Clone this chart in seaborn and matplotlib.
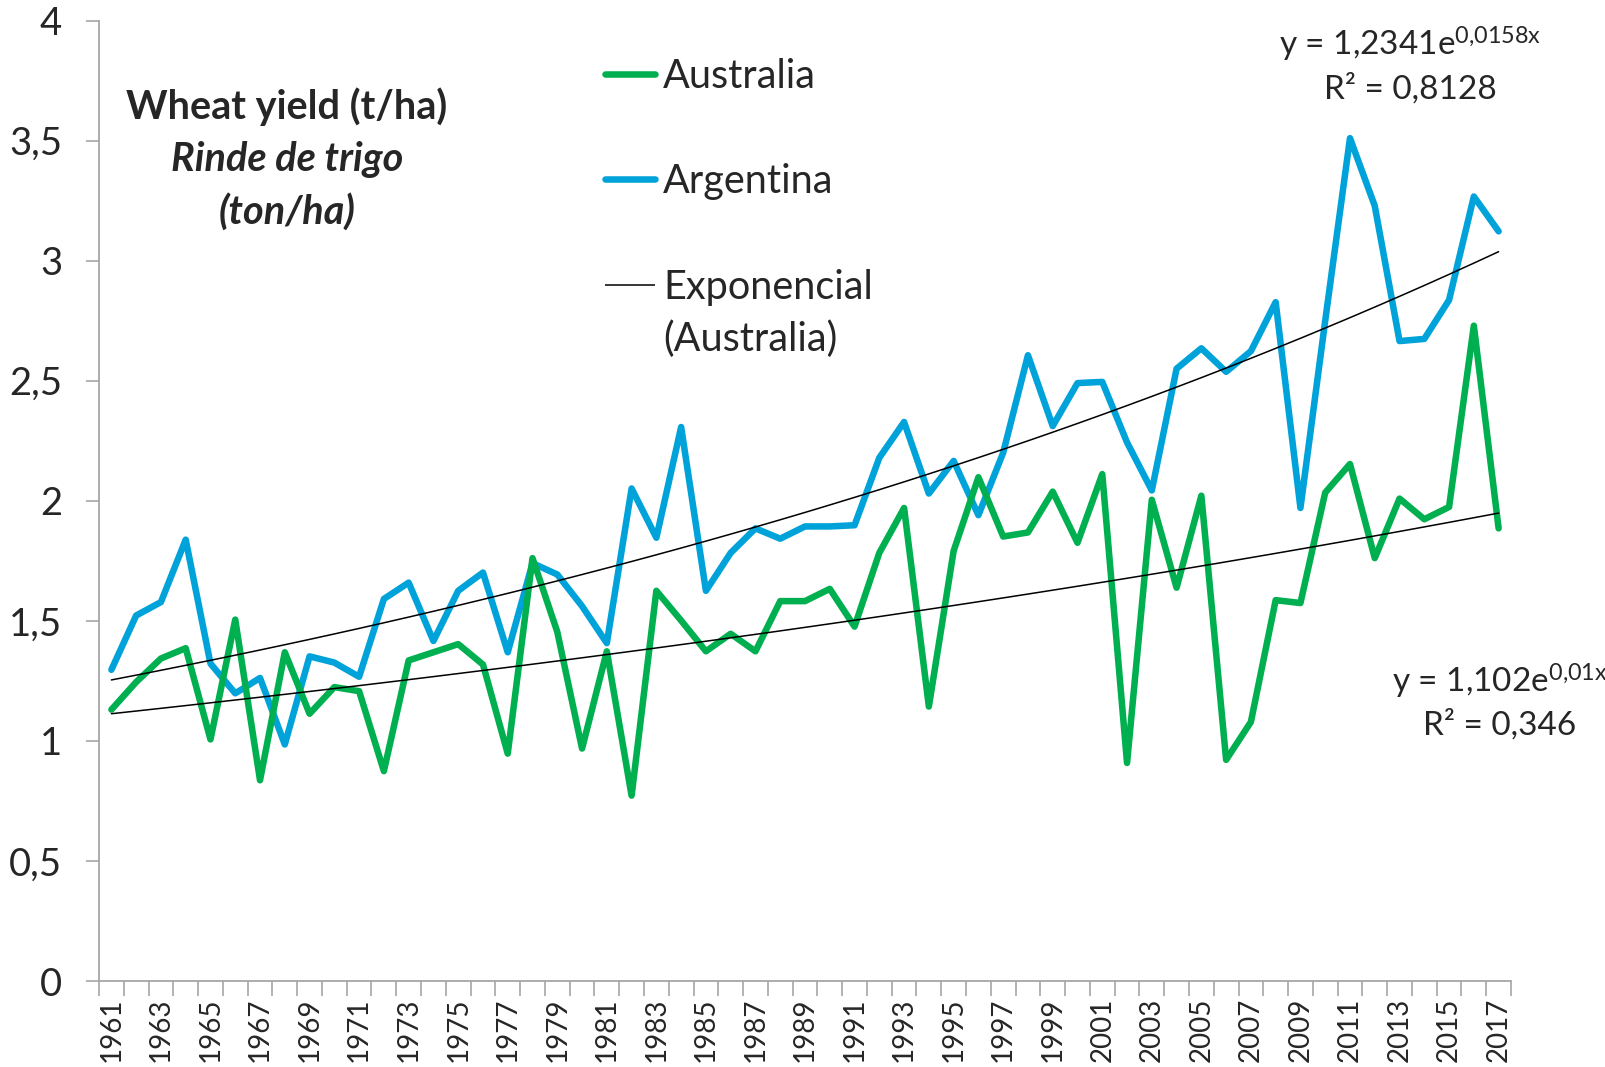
import numpy as np
import pandas as pd
import matplotlib
matplotlib.use("Agg")
import matplotlib.pyplot as plt
import seaborn as sns
from matplotlib.lines import Line2D
from matplotlib.ticker import FixedLocator, FuncFormatter

years = list(range(1961, 2018))

australia = [1.13, 1.245, 1.343, 1.386, 1.006, 1.505, 0.836, 1.369, 1.113, 1.224,
             1.207, 0.874, 1.335, 1.369, 1.403, 1.318, 0.947, 1.761, 1.454, 0.968,
             1.373, 0.772, 1.625, 1.501, 1.373, 1.446, 1.373, 1.582, 1.582, 1.633,
             1.476, 1.783, 1.970, 1.143, 1.791, 2.098, 1.851, 1.868, 2.038, 1.825,
             2.111, 0.908, 2.004, 1.638, 2.021, 0.921, 1.079, 1.586, 1.574, 2.034,
             2.153, 1.761, 2.009, 1.923, 1.974, 2.729, 1.885]

argentina = [1.296, 1.522, 1.578, 1.838, 1.322, 1.198, 1.262, 0.985, 1.352, 1.326,
             1.267, 1.591, 1.659, 1.416, 1.625, 1.701, 1.369, 1.740, 1.693, 1.561,
             1.407, 2.051, 1.846, 2.307, 1.625, 1.783, 1.885, 1.842, 1.893, 1.893,
             1.898, 2.179, 2.328, 2.030, 2.166, 1.940, 2.200, 2.606, 2.311, 2.490,
             2.495, 2.243, 2.043, 2.550, 2.635, 2.537, 2.623, 2.827, 1.970, 2.750,
             3.510, 3.228, 2.665, 2.674, 2.836, 3.267, 3.122]

# Exponential trend coefficients shown on the chart (x = 1..57)
aus_a, aus_b = 1.102, 0.01
arg_a, arg_b = 1.2341, 0.0158

y_ticks = [0, 0.5, 1, 1.5, 2, 2.5, 3, 3.5, 4]
legend_labels = ["Australia", "Argentina", "Exponencial", "(Australia)"]

GREEN = "#00B050"
BLUE = "#00A2DA"

sns.set_theme(style="white")
plt.rcParams["font.family"] = ["Lato", "DejaVu Sans"]
plt.rcParams["mathtext.fontset"] = "custom"
plt.rcParams["mathtext.rm"] = "Lato"
plt.rcParams["mathtext.it"] = "Lato"

df = pd.DataFrame({"year": years, "Australia": australia, "Argentina": argentina})
xi = np.arange(1, len(years) + 1)
df["trend_aus"] = aus_a * np.exp(aus_b * xi)
df["trend_arg"] = arg_a * np.exp(arg_b * xi)

W, H = 1606, 1067
fig = plt.figure(figsize=(W / 100, H / 100), dpi=100)
ax = fig.add_axes([99 / W, 1 - 981 / H, (1511 - 99) / W, (981 - 20.5) / H])

sns.lineplot(data=df, x="year", y="trend_aus", ax=ax, color="black", linewidth=1.1, zorder=3)
sns.lineplot(data=df, x="year", y="trend_arg", ax=ax, color="black", linewidth=1.1, zorder=3)
sns.lineplot(data=df, x="year", y="Argentina", ax=ax, color=BLUE, linewidth=4.7, zorder=2)
sns.lineplot(data=df, x="year", y="Australia", ax=ax, color=GREEN, linewidth=4.7, zorder=2)

ax.set_xlim(years[0] - 0.5, years[-1] + 0.5)
ax.set_ylim(0, 4)
ax.set_xlabel("")
ax.set_ylabel("")

gray = "#A6A6A6"
for s in ["top", "right"]:
    ax.spines[s].set_visible(False)
for s in ["left", "bottom"]:
    ax.spines[s].set_color(gray)
    ax.spines[s].set_linewidth(1.3)

ax.set_yticks(y_ticks)
ax.yaxis.set_major_formatter(FuncFormatter(lambda v, p: ("%g" % v).replace(".", ",")))
ax.tick_params(axis="y", which="major", direction="out", length=9.5, width=1.2, color=gray,
               labelsize=27.5, pad=17, left=True)

# tick marks at category boundaries, labels at odd years
ax.xaxis.set_major_locator(FixedLocator([y - 0.5 for y in years] + [years[-1] + 0.5]))
ax.xaxis.set_major_formatter(FuncFormatter(lambda v, p: ""))
ax.xaxis.set_minor_locator(FixedLocator(years[::2]))
ax.xaxis.set_minor_formatter(FuncFormatter(lambda v, p: "%d" % round(v)))
ax.tick_params(axis="x", which="major", direction="out", length=11, width=1.2, color=gray, bottom=True)
ax.tick_params(axis="x", which="minor", length=0, labelsize=20, labelrotation=90, pad=12, bottom=True)

# titles
fig.text(287 / W, 1 - 107 / H, "Wheat yield (t/ha)", ha="center", va="center",
         fontsize=28.5, fontweight="bold")
fig.text(287 / W, 1 - 159 / H, "Rinde de trigo", ha="center", va="center",
         fontsize=28.5, fontweight="bold", fontstyle="italic")
fig.text(287 / W, 1 - 212 / H, "(ton/ha)", ha="center", va="center",
         fontsize=28.5, fontweight="bold", fontstyle="italic")

# legend (Excel-style, drawn by hand)
leg_x0, leg_x1, txt_x = 605 / W, 655 / W, 663 / W
for yc, col, lw, cap in [(74, GREEN, 4.7, "round"), (179, BLUE, 4.7, "round"), (285, "black", 1.1, "butt")]:
    fig.add_artist(Line2D([leg_x0, leg_x1], [1 - yc / H, 1 - yc / H], transform=fig.transFigure,
                          color=col, linewidth=lw, solid_capstyle=cap))
for yb, lab in zip([88, 193, 299, 351], legend_labels):
    fig.text(txt_x, 1 - yb / H, lab, ha="left", va="baseline", fontsize=28.5)

# equations
fig.text(1410 / W, 1 - 44 / H, r"y = 1,2341e$^{\mathregular{0{,}0158x}}$", ha="center", va="center", fontsize=24)
fig.text(1410 / W, 1 - 89 / H, "R² = 0,8128", ha="center", va="center", fontsize=24)
fig.text(1500 / W, 1 - 681 / H, r"y = 1,102e$^{\mathregular{0{,}01x}}$", ha="center", va="center", fontsize=24)
fig.text(1500 / W, 1 - 725 / H, "R² = 0,346", ha="center", va="center", fontsize=24)

fig.savefig("out.png", dpi=100)
